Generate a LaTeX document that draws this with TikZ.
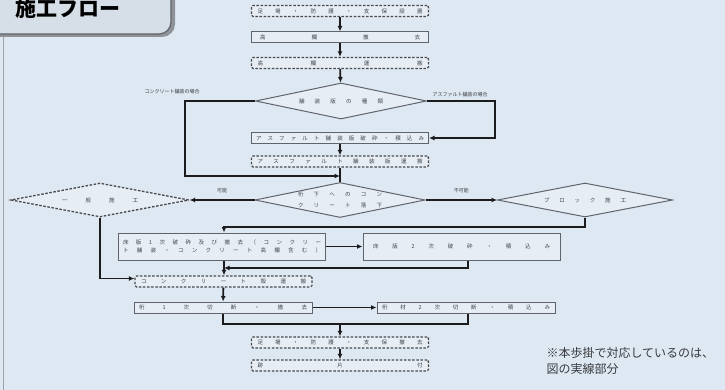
\documentclass[tikz,border=0pt]{standalone}
\usepackage{fontspec}
\setmainfont{Noto Sans CJK JP}
\usetikzlibrary{arrows.meta,shapes.geometric,positioning}
\definecolor{slidebg}{RGB}{222,232,243}
\definecolor{boxline}{RGB}{95,100,108}
\definecolor{boxfill}{RGB}{230,237,244}
\definecolor{flowline}{RGB}{28,28,30}
\definecolor{tabfill}{RGB}{214,222,231}
\definecolor{notegray}{RGB}{55,58,62}
\newcommand{\spreadtext}[2]{\makebox[#1][s]{#2}}

\tikzset{
 flowbox/.style={draw=boxline,fill=boxfill,line width=1pt,minimum width=177pt,minimum height=11pt,
  inner sep=0pt,text=boxline!70!black,font=\fontsize{5.5}{6.5}\selectfont},
 flowdash/.style={flowbox,draw=flowline!80,line width=1.3pt,dash pattern=on 2.5pt off 1.6pt,rounded corners=1.5pt},
 decide/.style={diamond,aspect=5,draw=boxline,fill=boxfill,line width=1pt,inner sep=0pt,
  text=boxline!70!black,font=\fontsize{5.5}{11}\selectfont,align=center},
 decidedash/.style={decide,draw=flowline!80,line width=1.3pt,dash pattern=on 2.5pt off 1.6pt},
 conn/.style={flowline,line width=1.8pt,-{Latex[length=5.5pt,width=5pt]}},
 link/.style={flowline,line width=1.8pt},
 sidelabel/.style={font=\fontsize{5}{6}\selectfont,text=notegray}
}

\begin{document}
\begin{tikzpicture}[x=1pt,y=-1pt]
\useasboundingbox (0,0) rectangle (725,390);
\fill[slidebg] (0,0) rectangle (725,390);
\draw[boxline!60,line width=.8pt] (3,36) -- (3,390);
% title tab
\fill[boxline!70,rounded corners=13pt] (-20,-20) rectangle (175,37);
\filldraw[fill=tabfill,draw=boxline,line width=1.2pt,rounded corners=12pt] (-20,-20) rectangle (171,34);
\node[font=\bfseries\fontsize{21}{22}\selectfont,anchor=west] (title) at (12,9) {施工フロー};

% main column
\node[flowdash] (setup) at (340,11) {\spreadtext{165pt}{足 場 ・ 防 護 ・ 支 保 設 置}};
\node[flowbox] (railrm) at (340,37.5) {\spreadtext{160pt}{高 欄 撤 去}};
\node[flowdash] (railtr) at (340,63) {\spreadtext{165pt}{高 欄 運 搬}};
\node[decide,minimum width=171pt,minimum height=36pt] (kind) at (341,101) {\spreadtext{84pt}{舗 装 版 の 種 類}};
\node[flowbox] (asbrk) at (340,138) {\spreadtext{168pt}{ア ス フ ァ ル ト 舗 装 版 破 砕 ・ 積 込 み}};
\node[flowdash] (astr) at (340,161.5) {\spreadtext{165pt}{ア ス フ ァ ル ト 舗 装 版 運 搬}};
\node[decide,minimum width=170pt,minimum height=35pt] (fall) at (340,200)
 {\spreadtext{84pt}{桁 下 へ の コ ン}\\\spreadtext{84pt}{ク リ ー ト 落 下}};
\node[decidedash,minimum width=178pt,minimum height=34pt] (ippan) at (100,200) {\spreadtext{76pt}{一 般 施 工}};
\node[decide,minimum width=175pt,minimum height=34pt] (block) at (585,200) {\spreadtext{82pt}{ブ ロ ッ ク 施 工}};
\node[flowbox,minimum width=207pt,minimum height=27pt,align=center,font=\fontsize{5.5}{8}\selectfont] (slab1) at (222,246.5)
 {\spreadtext{198pt}{床 版 1 次 破 砕 及 び 撤 去 （ コ ン ク リ ー}\\\spreadtext{198pt}{ト 舗 装 ・ コ ン ク リ ー ト 高 欄 含 む ）}};
\node[flowbox,minimum width=197pt,minimum height=27pt] (slab2) at (461.5,246.5) {\spreadtext{177pt}{床 版 2 次 破 砕 ・ 積 込 み}};
\node[flowdash] (conc) at (223.5,281.5) {\spreadtext{165pt}{コ ン ク リ ー ト 殻 運 搬}};
\node[flowbox,minimum width=178pt] (gir1) at (223,307.5) {\spreadtext{168pt}{桁 1 次 切 断 ・ 撤 去}};
\node[flowbox,minimum width=178pt] (gir2) at (466,307.5) {\spreadtext{168pt}{桁 材 2 次 切 断 ・ 積 込 み}};
\node[flowdash] (remove) at (340,342.5) {\spreadtext{165pt}{足 場 ・ 防 護 ・ 支 保 撤 去}};
\node[flowdash] (finish) at (340,365.5) {\spreadtext{165pt}{跡 片 付}};

\coordinate (cjoin) at (340,176);
\coordinate (sjoin) at (224,227);
\coordinate (rjoin) at (224,268);
\coordinate (gjoin) at (340,324);

\draw[conn] (setup) -- (railrm);
\draw[conn] (railrm) -- (railtr);
\draw[conn] (railtr) -- (kind);
\draw[conn] (kind.west) -- ++(-70,0) |- (cjoin);
\draw[conn] (kind.east) -- ++(68,0) |- (asbrk.east);
\draw[conn] (asbrk) -- (astr);
\draw[link] (astr) -- (fall);
\draw[conn] (fall.west) -- node[sidelabel,above=3pt] {可能} (ippan.east);
\draw[conn] (fall.east) -- node[sidelabel,above=3pt] {不可能} (block.west);
\draw[conn] (block.south) |- (sjoin) -- (sjoin |- slab1.north);
\draw[conn] (slab1.east) -- (slab2.west);
\draw[conn] ([xshift=6.5pt]slab2.south) |- (rjoin);
\draw[conn] (rjoin |- slab1.south) -- (rjoin |- conc.north);
\draw[conn] (ippan.south) |- ([yshift=3pt]conc.west);
\draw[conn] (conc) -- (gir1);
\draw[conn] (gir1.east) -- (gir2.west);
\draw[link] (gir1.south) |- (gjoin) -| ([xshift=2pt]gir2.south);
\draw[conn] (gjoin) -- (remove.north);
\draw[conn] (remove) -- (finish);

\node[sidelabel,anchor=west] (concase) at (141,92) {コンクリート舗装の場合};
\node[sidelabel,anchor=west] (ascase) at (429,95) {アスファルト舗装の場合};

\node[font=\fontsize{12}{15.5}\selectfont,text=notegray,anchor=north west,align=left] (note) at (543,344)
 {※本歩掛で対応しているのは、\\図の実線部分};
\end{tikzpicture}
\end{document}
